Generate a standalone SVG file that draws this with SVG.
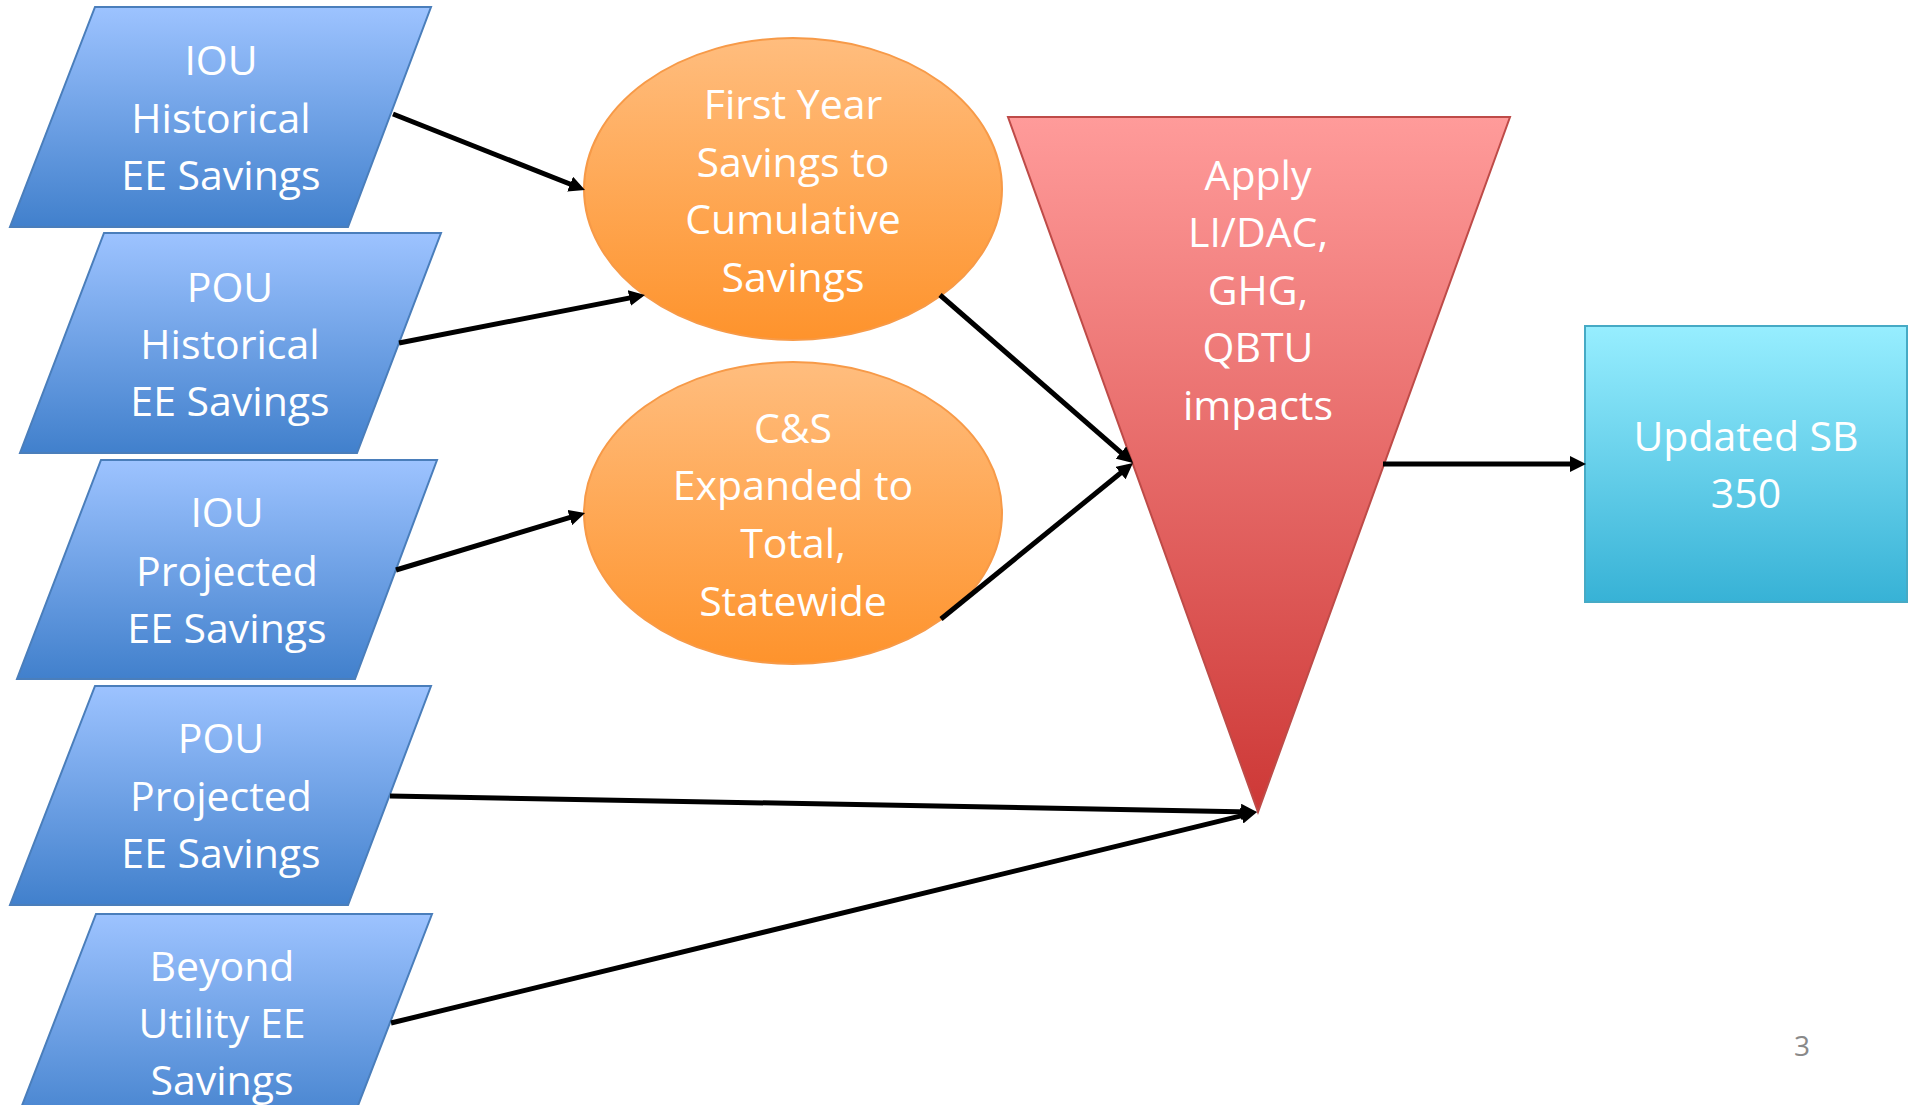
<svg xmlns="http://www.w3.org/2000/svg" width="1914" height="1105" viewBox="0 0 1914 1105">
<defs>
<linearGradient id="gBlue" x1="0" y1="0" x2="0" y2="1"><stop offset="0" stop-color="#9DC3FF"/><stop offset="1" stop-color="#4180CC"/></linearGradient>
<linearGradient id="gOrange" x1="0" y1="0" x2="0" y2="1"><stop offset="0" stop-color="#FFBD7E"/><stop offset="1" stop-color="#FE932C"/></linearGradient>
<linearGradient id="gRed" x1="0" y1="0" x2="0" y2="1"><stop offset="0" stop-color="#FF9B9A"/><stop offset="1" stop-color="#CD3836"/></linearGradient>
<linearGradient id="gCyan" x1="0" y1="0" x2="0" y2="1"><stop offset="0" stop-color="#97EEFF"/><stop offset="1" stop-color="#37B2D6"/></linearGradient>
<marker id="arrow" markerUnits="userSpaceOnUse" markerWidth="16" markerHeight="16" refX="10" refY="8" orient="auto"><path d="M0,0 L16,8 L0,16 z" fill="#000"/></marker>
<style>
.blue{fill:url(#gBlue);stroke:#4A7EBB;stroke-width:2}
.orange{fill:url(#gOrange);stroke:#F79A48;stroke-width:2}
.red{fill:url(#gRed);stroke:#BE4B48;stroke-width:2}
.cyan{fill:url(#gCyan);stroke:#46AAC5;stroke-width:2}
.lbl{font-family:"Open Sans","Lato","Liberation Sans",sans-serif;font-size:41px;fill:#FFFFFF;text-anchor:middle}
.conn line{stroke:#000;stroke-width:5;marker-end:url(#arrow)}
.pg{font-family:"Open Sans","Liberation Sans",sans-serif;font-size:28px;fill:#898989;text-anchor:middle}
</style>
</defs>
<rect width="1914" height="1105" fill="#FFFFFF"/>

<g id="iou-historical">
<polygon class="blue" points="95,7 431,7 348,227 10,227"/>
<text class="lbl"><tspan x="221" y="75">IOU</tspan><tspan x="221" y="133">Historical</tspan><tspan x="221" y="190">EE Savings</tspan></text>
</g>
<g id="pou-historical">
<polygon class="blue" points="104,233 441,233 357,453 20,453"/>
<text class="lbl"><tspan x="230" y="302">POU</tspan><tspan x="230" y="359">Historical</tspan><tspan x="230" y="416">EE Savings</tspan></text>
</g>
<g id="iou-projected">
<polygon class="blue" points="101,460 437,460 355,679 17,679"/>
<text class="lbl"><tspan x="227" y="527">IOU</tspan><tspan x="227" y="586">Projected</tspan><tspan x="227" y="643">EE Savings</tspan></text>
</g>
<g id="pou-projected">
<polygon class="blue" points="95,686 431,686 348,905 10,905"/>
<text class="lbl"><tspan x="221" y="753">POU</tspan><tspan x="221" y="811">Projected</tspan><tspan x="221" y="868">EE Savings</tspan></text>
</g>
<g id="beyond-utility">
<polygon class="blue" points="96,914 432,914 347,1134 11,1134"/>
<text class="lbl"><tspan x="222" y="981">Beyond</tspan><tspan x="222" y="1038">Utility EE</tspan><tspan x="222" y="1095">Savings</tspan></text>
</g>

<g id="first-year">
<ellipse class="orange" cx="793" cy="189" rx="209" ry="151"/>
<text class="lbl"><tspan x="793" y="119">First Year</tspan><tspan x="793" y="177">Savings to</tspan><tspan x="793" y="234">Cumulative</tspan><tspan x="793" y="292">Savings</tspan></text>
</g>
<g id="cs-expanded">
<ellipse class="orange" cx="793" cy="513" rx="209" ry="151"/>
<text class="lbl"><tspan x="793" y="443">C&amp;S</tspan><tspan x="793" y="500">Expanded to</tspan><tspan x="793" y="558">Total,</tspan><tspan x="793" y="616">Statewide</tspan></text>
</g>

<g id="apply-impacts">
<polygon class="red" points="1008,117 1510,117 1258,812"/>
<text class="lbl"><tspan x="1258" y="190">Apply</tspan><tspan x="1258" y="247">LI/DAC,</tspan><tspan x="1258" y="305">GHG,</tspan><tspan x="1258" y="362">QBTU</tspan><tspan x="1258" y="420">impacts</tspan></text>
</g>

<g id="updated-sb350">
<rect class="cyan" x="1585" y="326" width="322" height="276"/>
<text class="lbl"><tspan x="1746" y="451">Updated SB</tspan><tspan x="1746" y="508">350</tspan></text>
</g>

<g id="connectors" class="conn">
<line x1="393" y1="114" x2="579.4" y2="187.8"/>
<line x1="399" y1="343" x2="639.1" y2="296.1"/>
<line x1="396" y1="570" x2="579.3" y2="514.7"/>
<line x1="390" y1="796" x2="1251" y2="811.9"/>
<line x1="391" y1="1023" x2="1251.2" y2="813.4"/>
<line x1="940" y1="295" x2="1128.5" y2="459.1"/>
<line x1="941" y1="619" x2="1128.3" y2="466.8"/>
<line x1="1383" y1="464" x2="1580" y2="464"/>
</g>

<text class="pg" x="1802" y="1056">3</text>
</svg>
